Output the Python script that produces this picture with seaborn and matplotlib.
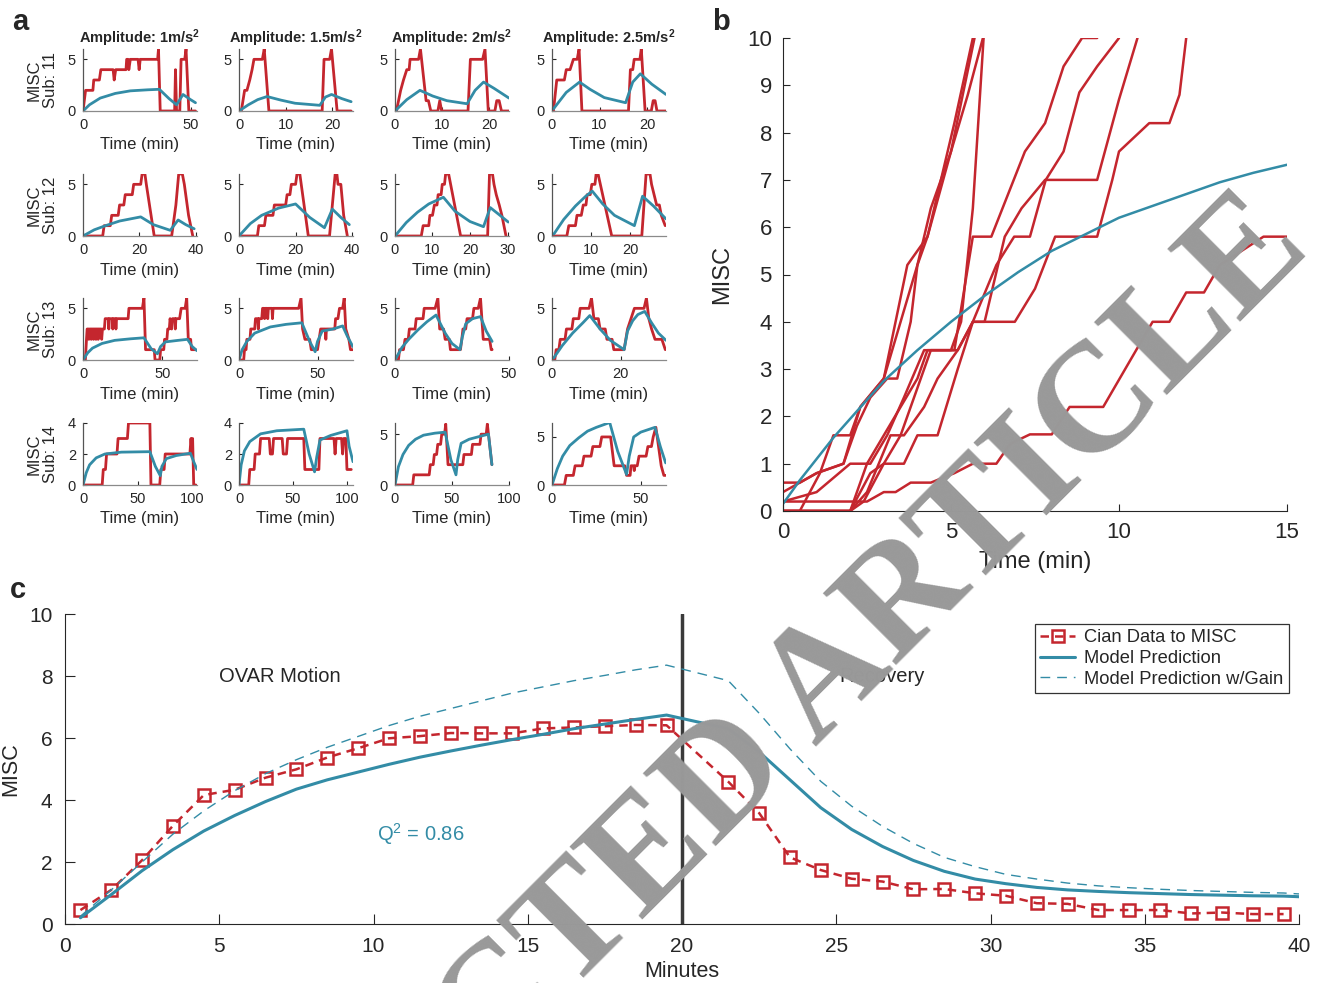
import numpy as np
import pandas as pd
import seaborn as sns
import matplotlib.pyplot as plt

# ===== 数据 =====
RED = "#c4262e"
TEAL = "#338ca6"

amps = ["1", "1.5", "2", "2.5"]
subjects = ["11", "12", "13", "14"]

# panel a: (time, MISC) rated by subject / model prediction
s11_a1_red = [(0,0),(1.2,2),(4.6,2),(5.0,3),(7.6,3),(8.3,4),(14.0,4),(14.5,3),(15.2,4),(20.0,4),(20.3,5),(21.0,5),(21.3,4),(22.0,5),(25.6,5),(26.1,4),(26.6,5),(34.7,5),(35.1,6),(35.9,0),(42.6,0),(43.0,4),(43.5,0),(45.0,0),(45.6,5),(47.3,5),(47.9,6),(49.2,0),(52.3,0)]
s11_a1_teal = [(0,0),(3,0.6),(8,1.25),(15,1.7),(22,1.95),(30,2.05),(35.5,2.1),(40,1.2),(43.5,0.6),(46.5,1.6),(50,1.1),(52.3,0.8)]
s11_a15_red = [(0,0),(0.5,0),(1.2,2),(1.7,2),(2.3,3),(2.8,4),(3.2,5),(5.0,5),(5.4,6),(6.4,0),(17.8,0),(18.2,5),(19.4,5),(19.8,6),(21.0,0),(24,0)]
s11_a15_teal = [(0,0),(2,0.6),(4,1.1),(6,1.4),(9,1.05),(12,0.75),(17.3,0.55),(18.5,1.35),(19.8,1.6),(22,1.2),(24,0.9)]
s11_a2_red = [(0,0),(0.3,0),(1.2,2),(1.8,3),(2.5,4),(3.0,4),(3.2,5),(5.0,5),(5.4,6),(6.6,1),(7.1,1),(7.6,0),(9.1,0),(9.5,1),(9.9,0),(15.5,0),(16.0,5),(18.6,5),(19.1,6),(19.8,0),(21.2,0),(21.6,1),(22.1,1),(22.6,0),(24.2,0)]
s11_a2_teal = [(0,0),(2.5,1.1),(5.3,2.0),(8,1.45),(11,1.0),(15.3,0.7),(17,2.0),(18.8,2.8),(21,2.2),(24.2,1.25)]
s11_a25_red = [(0,0),(0.3,0),(1.0,3),(2.6,3),(3.0,4),(3.8,4),(4.5,5),(5.3,5),(5.7,6),(6.3,0),(16.1,0),(16.5,4),(17.0,4),(17.3,5),(18.5,5),(18.8,6),(19.6,0),(20.9,0),(21.3,1),(21.7,1),(22.1,0),(24,0)]
s11_a25_teal = [(0.3,0.2),(3,1.8),(5.8,2.8),(8,2.1),(11,1.3),(15.5,0.8),(17,2.8),(18.6,3.6),(21,2.6),(24,1.6)]

s12_a1_red = [(0,0),(7.0,0),(7.5,1),(9.7,1),(10.2,2),(12.5,2),(13.0,3),(14.5,3),(15.0,4),(17.5,4),(18.0,5),(20.5,5),(21.0,6),(22.0,6),(22.5,5),(25.3,0),(31.5,0),(33.0,3),(34.0,6),(35.3,6),(36.0,5),(37.5,2),(39.0,0)]
s12_a1_teal = [(0,0),(4,0.6),(8,1.0),(13,1.45),(20.5,1.85),(25,1.1),(31,0.55),(33.8,1.55),(36.5,1.1),(39.5,0.7)]
s12_a15_red = [(0,0),(6.5,0),(7.0,1),(9.0,1),(9.5,2),(12.0,2),(12.5,3),(16.5,3),(17.0,4),(18.0,4),(18.5,5),(20.0,5),(20.5,6),(21.5,6),(24.5,0),(32.0,0),(34.0,6),(34.6,6),(35.0,5),(36.0,5),(37.0,2),(38.3,0)]
s12_a15_teal = [(0,0),(4,1.2),(8,2.0),(14,2.7),(20,3.1),(25,1.8),(30.2,0.8),(33,2.6),(36,1.8),(39,1.1)]
s12_a2_red = [(0,0),(7.0,0),(7.5,1),(9.0,1),(9.3,2),(10.0,2),(10.5,3),(11.2,3),(11.5,4),(12.3,4),(12.6,5),(13.2,5),(13.5,6),(14.3,6),(17.5,0),(24.7,0),(25.2,6),(26.0,6),(26.4,5),(27.0,4),(27.8,3),(28.5,2),(29.6,0)]
s12_a2_teal = [(0,0),(3,1.3),(6,2.3),(9,3.1),(12.9,3.75),(16,2.4),(20,1.4),(23.6,0.9),(25.4,2.75),(28,2.0),(30.2,1.35)]
s12_a25_red = [(0,0),(3.8,0),(4.3,1),(6.0,1),(6.4,2),(7.5,2),(8.0,3),(8.7,3),(9.0,4),(9.8,4),(10.2,5),(11.0,5),(11.3,6),(11.8,6),(15.3,0),(23.0,0),(24.1,6),(25.1,6),(25.5,5),(26.8,3),(27.5,3),(28.0,2),(29.0,1)]
s12_a25_teal = [(0.5,0.2),(3,1.6),(6,2.9),(8.5,3.8),(10.3,4.35),(13,3.1),(16,2.0),(21.1,1.0),(23.2,3.85),(26,2.9),(29.2,1.65)]

s13_a1_red = [(0,0),(1.5,0),(2.2,2),(2.6,3),(3.5,3),(3.7,2),(4.2,3),(5.0,3),(5.2,2),(5.6,3),(6.5,3),(6.7,2),(7.1,3),(8.0,3),(8.2,2),(8.6,3),(9.4,3),(9.6,2),(10.0,3),(11.5,3),(11.8,2),(12.3,3),(13.5,3),(14.0,4),(16.0,4),(16.3,3),(16.7,4),(18.5,4),(18.8,3),(19.2,4),(20.5,4),(20.8,3),(21.2,4),(28.5,4),(29.0,5),(37.5,5),(38.5,6),(39.5,1),(45.0,1),(45.5,0),(48.5,0),(49.0,1),(51.0,1),(51.5,2),(53.0,2),(53.5,3),(54.5,3),(55.0,4),(56.0,3),(56.5,4),(58.0,4),(58.3,3),(58.7,4),(61.0,4),(62.0,5),(64.5,5),(65.5,6),(66.5,2),(68.0,2),(68.5,1),(71.0,1)]
s13_a1_teal = [(0,0),(3,0.7),(6,1.15),(12,1.6),(20,1.9),(30,2.05),(38.5,2.15),(43,1.1),(47,0.6),(49,1.3),(52,1.75),(60,1.9),(66,2.0),(69,1.3),(72,0.9)]
s13_a15_red = [(0,0),(3,0),(3.5,1),(4.5,1),(5,2),(7,2),(7.5,3),(10,3),(10.5,4),(12,4),(12.3,3),(12.7,4),(14.5,4),(15,5),(16,5),(16.3,4),(16.8,5),(18,5),(18.3,4),(18.7,5),(21,5),(21.3,4),(21.7,5),(38,5),(39.5,6),(40.5,3),(42,2),(45,2),(46,1),(50,1),(51,2),(52,3),(55,3),(55.3,2),(55.7,3),(61,3),(61.5,4),(63,4),(64,5),(66,5),(67,6),(68,3),(70,2),(71,1),(72.5,1)]
s13_a15_teal = [(0,0),(2,1.0),(5,1.8),(10,2.6),(20,3.2),(30,3.45),(40,3.6),(45,1.8),(48.5,0.8),(50,1.8),(53,2.8),(60,3.0),(66,3.3),(69,2.3),(72.5,1.3)]
s13_a2_red = [(0,0),(1.5,0),(2,1),(3.7,1),(4.4,2),(5.8,2),(6.3,3),(8.8,3),(9.3,4),(12.3,4),(12.8,5),(17.6,5),(18.8,6),(19.6,3),(21.3,3),(22,2),(23.8,2),(24.3,1),(28.7,1),(29.3,2),(29.8,3),(31,3),(31.6,4),(34,4),(34.6,5),(36.5,5),(37.5,6),(38.7,2),(41.5,2),(42.2,1),(42.6,1)]
s13_a2_teal = [(0,0),(3,1.2),(6,2.0),(10,2.9),(14,3.7),(18,4.35),(22,2.6),(25,1.6),(28.5,1.0),(29.5,2.2),(31,3.5),(34,4.0),(37.5,4.2),(40,2.8),(42.6,1.8)]
s13_a25_red = [(0,0),(0.8,0),(1.2,1),(2,1),(2.4,2),(3.8,2),(4.2,3),(5.8,3),(6.2,4),(7.8,4),(8.2,5),(10.8,5),(11.5,6),(12.2,4),(13.5,4),(14,3),(15.5,3),(16,2),(17.5,2),(18,1),(21,1),(21.5,2),(22,3),(23,4),(24,5),(26.8,5),(27.5,6),(28.2,4),(29,3),(30,2),(32,2),(33,1)]
s13_a25_teal = [(0.5,0.2),(3,1.4),(6,2.6),(9,3.6),(11,4.3),(14,3.0),(17,1.9),(21,1.0),(22,2.8),(23.5,3.8),(25,4.4),(27,4.7),(29,3.6),(31,2.6),(33.2,1.9)]

s14_a1_red = [(0,0),(17.5,0),(18.5,1),(20.5,1),(21.5,2),(31,2),(32,3),(40.5,3),(41.5,4),(61,4),(62,0),(70,0),(71,1),(74,1),(75,2),(97.5,2),(98.5,3),(99.5,2),(100,3),(101,0),(103,0)]
s14_a1_teal = [(0,0),(3,0.8),(6,1.3),(12,1.75),(20,2.0),(35,2.12),(61,2.15),(66,1.2),(70.5,0.6),(72,1.2),(76,1.7),(85,1.9),(98,2.05),(101,1.5),(104,1.0)]
s14_a15_red = [(0,0),(9,0),(10,1),(14,1),(15,2),(19,2),(20,3),(28,3),(29,2),(31,2),(32,3),(40,3),(41,2),(44,2),(45,3),(60,3),(61,1),(74,1),(75,3),(88,3),(89,2),(90,3),(95,3),(96,2),(97,3),(99,3),(100,1),(104,1)]
s14_a15_teal = [(0,0),(2,1.3),(5,2.2),(10,2.8),(20,3.3),(35,3.5),(60,3.6),(65,2.0),(70,0.85),(72,1.8),(75,2.9),(85,3.2),(100,3.5),(102,2.5),(105.6,1.5)]
s14_a2_red = [(0,0),(15.5,0),(16.5,1),(30,1),(31,2),(33.5,2),(34.5,3),(36.5,3),(37.5,4),(40,4),(41,5),(43.5,5),(44.5,6),(46.5,2),(59.5,2),(60.5,3),(67,3),(68,4),(74.5,4),(75.5,5),(80,5),(81,6),(82,5),(85,2)]
s14_a2_teal = [(0,0),(3,1.8),(7,3.0),(12,3.9),(18,4.5),(25,4.9),(35,5.1),(44,5.2),(49,2.5),(53.5,1.0),(55,2.5),(58,4.1),(65,4.5),(75,4.8),(82,5.0),(85,2.0)]
s14_a25_red = [(0,0),(7,0),(8,1),(12,1),(13,2),(17,2),(18,3),(22,3),(23,4),(27,4),(28,5),(33,5),(35,2),(41,2),(42,1),(44,1),(44.5,2),(46,2),(46.3,1.5),(46.7,2),(48,2),(49,3),(53,3),(54,4),(56,4),(57,5),(58.5,6),(60,4),(61.5,2),(63,1),(64,1)]
s14_a25_teal = [(0,0),(3,1.7),(6,3.0),(10,4.1),(15,4.9),(20,5.6),(25,6.0),(32.5,6.5),(37,3.5),(42,1.1),(43.5,3.0),(46,5.0),(50,5.5),(58,6.0),(61,4.0),(64,2.3)]

grid_red = [[s11_a1_red, s11_a15_red, s11_a2_red, s11_a25_red],
            [s12_a1_red, s12_a15_red, s12_a2_red, s12_a25_red],
            [s13_a1_red, s13_a15_red, s13_a2_red, s13_a25_red],
            [s14_a1_red, s14_a15_red, s14_a2_red, s14_a25_red]]
grid_teal = [[s11_a1_teal, s11_a15_teal, s11_a2_teal, s11_a25_teal],
             [s12_a1_teal, s12_a15_teal, s12_a2_teal, s12_a25_teal],
             [s13_a1_teal, s13_a15_teal, s13_a2_teal, s13_a25_teal],
             [s14_a1_teal, s14_a15_teal, s14_a2_teal, s14_a25_teal]]
grid_xmax = [[53, 24.4, 24.2, 24], [40.5, 40.3, 30.4, 29.2], [72, 72.6, 50, 33.2], [104, 105.6, 100, 64.2]]
grid_xticks = [[[0, 50], [0, 10, 20], [0, 10, 20], [0, 10, 20]],
               [[0, 20, 40], [0, 20, 40], [0, 10, 20, 30], [0, 10, 20]],
               [[0, 50], [0, 50], [0, 50], [0, 20]],
               [[0, 50, 100], [0, 50, 100], [0, 50, 100], [0, 50]]]
grid_ymax = [[6, 6, 6, 6], [6, 6, 6, 6], [6, 6, 6, 6], [4, 4, 6.1, 6.45]]

# panel b: 个体曲线
b_lines = [
    ([0, 0.5, 1.0, 1.8, 2.3, 3.0, 3.7, 4.3, 5.1, 5.65], [0.6, 0.6, 0.8, 1.0, 2.2, 2.8, 5.2, 5.8, 8.2, 10]),
    ([0, 1.0, 1.8, 2.2, 2.6, 3.1, 3.4, 3.8, 4.0, 4.3, 5.0, 5.7], [0.4, 0.8, 1.0, 1.8, 2.4, 2.8, 2.8, 4.0, 5.2, 5.8, 7.6, 10]),
    ([0, 0.5, 1.1, 1.5, 2.0, 2.3, 3.0, 3.5, 4.0, 4.4, 5.0, 5.5, 5.95], [0, 0, 0.8, 1.6, 1.6, 2.2, 2.8, 4.0, 5.2, 6.4, 7.6, 8.8, 10]),
    ([0, 2.0, 2.5, 3.0, 3.5, 4.0, 4.3, 5.0, 5.3, 5.65, 5.97], [0, 0, 1.0, 1.6, 2.2, 2.8, 3.4, 3.4, 4.0, 6.4, 10]),
    ([0, 1.0, 2.0, 2.6, 3.1, 3.6, 4.2, 5.1, 5.65, 6.2, 7.2, 7.8, 8.35, 8.9, 9.35], [0.2, 0.4, 1.0, 1.0, 1.6, 2.4, 3.4, 3.4, 5.8, 5.8, 7.6, 8.2, 9.4, 10, 10]),
    ([0, 2.0, 2.4, 3.0, 3.5, 4.0, 4.4, 5.2, 5.65, 6.35, 6.88, 7.35, 7.82, 8.35, 8.82, 9.35, 10.0], [0, 0, 0.2, 1.0, 1.6, 2.6, 3.4, 3.4, 4.0, 5.2, 5.8, 5.8, 7.0, 7.6, 8.85, 9.4, 10]),
    ([0, 2.0, 2.6, 3.0, 3.6, 4.0, 4.6, 5.2, 5.65, 6.0, 6.6, 7.1, 7.8, 9.35, 10.0, 10.55], [0, 0, 0.8, 1.0, 1.0, 1.6, 1.6, 3.0, 4.0, 4.0, 5.8, 6.4, 7.0, 7.0, 8.7, 10]),
    ([0, 2.0, 2.5, 3.2, 3.6, 4.2, 4.6, 5.2, 5.65, 6.9, 7.5, 8.1, 9.35, 9.8, 10.0, 10.9, 11.5, 11.8, 12.0], [0, 0, 0.4, 1.6, 1.6, 2.2, 2.8, 3.4, 4.0, 4.0, 4.7, 5.8, 5.8, 7.0, 7.6, 8.2, 8.2, 8.8, 10]),
    ([0, 2.5, 3.0, 3.35, 3.8, 4.4, 5.1, 5.65, 6.35, 6.76, 7.35, 8.0, 8.53, 9.53, 11.0, 11.5, 12.0, 12.53, 13.0, 14.3, 15], [0.2, 0.2, 0.4, 0.4, 0.6, 0.6, 0.8, 1.0, 1.0, 1.42, 1.62, 1.62, 2.2, 2.2, 4.0, 4.0, 4.62, 4.62, 5.2, 5.8, 5.8]),
]
b_model_t = [0, 0.5, 1, 1.5, 2, 3, 4, 5, 6, 7, 8, 9, 10, 11, 12, 13, 14, 15]
b_model = [0.15, 0.65, 1.1, 1.55, 1.95, 2.75, 3.4, 4.0, 4.55, 5.05, 5.5, 5.85, 6.2, 6.45, 6.7, 6.95, 7.15, 7.32]

# panel c
misc_t = [0.5, 1.5, 2.5, 3.5, 4.5, 5.5, 6.5, 7.5, 8.5, 9.5, 10.5, 11.5, 12.5, 13.5, 14.5, 15.5, 16.5, 17.5, 18.5, 19.5,
          21.5, 22.5, 23.5, 24.5, 25.5, 26.5, 27.5, 28.5, 29.5, 30.5, 31.5, 32.5, 33.5, 34.5, 35.5, 36.5, 37.5, 38.5, 39.5]
misc = [0.45, 1.1, 2.06, 3.17, 4.16, 4.33, 4.72, 4.99, 5.37, 5.67, 5.99, 6.06, 6.16, 6.15, 6.15, 6.31, 6.34, 6.38, 6.42, 6.41,
        4.59, 3.58, 2.15, 1.74, 1.46, 1.37, 1.12, 1.13, 0.99, 0.91, 0.67, 0.65, 0.45, 0.45, 0.45, 0.34, 0.37, 0.32, 0.32]
model_t = misc_t + [40]
model = [0.2, 0.95, 1.72, 2.4, 3.0, 3.5, 3.95, 4.35, 4.65, 4.9, 5.15, 5.38, 5.58, 5.77, 5.95, 6.12, 6.3, 6.45, 6.6, 6.74,
         6.3, 5.55, 4.65, 3.75, 3.05, 2.5, 2.05, 1.7, 1.45, 1.3, 1.18, 1.1, 1.05, 1.01, 0.98, 0.95, 0.93, 0.91, 0.9, 0.88]
model_gain = [0.25, 1.1, 2.0, 2.9, 3.65, 4.3, 4.85, 5.3, 5.7, 6.05, 6.4, 6.7, 6.95, 7.2, 7.45, 7.65, 7.85, 8.02, 8.2, 8.35,
              7.85, 6.8, 5.65, 4.6, 3.8, 3.15, 2.6, 2.15, 1.85, 1.6, 1.45, 1.32, 1.23, 1.17, 1.12, 1.08, 1.05, 1.02, 1.0, 0.97]

# ===== 样式 =====
sns.set_style("ticks")
plt.rcParams['font.family'] = ['Liberation Sans', 'DejaVu Sans']
plt.rcParams['axes.edgecolor'] = '#262626'
plt.rcParams['mathtext.default'] = 'regular'

W, H = 1322, 983
fig = plt.figure(figsize=(W / 100, H / 100), dpi=100)


def px_axes(x0, x1, y0, y1):
    # 像素坐标 -> figure 坐标
    return fig.add_axes([x0 / W, 1 - y1 / H, (x1 - x0) / W, (y1 - y0) / H])


def trace(ax, pts, color, lw):
    df = pd.DataFrame(pts, columns=["t", "v"])
    sns.lineplot(data=df, x="t", y="v", ax=ax, color=color, lw=lw, sort=False, estimator=None)


# ===== a =====
col_x = [83, 239, 395, 552]
row_y = [49, 174, 298, 423]
for r in range(4):
    for c in range(4):
        ax = px_axes(col_x[c], col_x[c] + 114, row_y[r], row_y[r] + 62)
        trace(ax, grid_red[r][c], RED, 2.0)
        trace(ax, grid_teal[r][c], TEAL, 2.0)
        ax.set_xlim(0, grid_xmax[r][c])
        ax.set_ylim(0, grid_ymax[r][c])
        ax.set_xticks(grid_xticks[r][c])
        ax.set_yticks([0, 2, 4] if grid_ymax[r][c] == 4 else [0, 5])
        sns.despine(ax=ax)
        ax.spines['left'].set_color('#555555')
        ax.spines['bottom'].set_color('#8a8a8a')
        for s in ax.spines.values():
            s.set_linewidth(0.9)
        ax.tick_params(direction='in', length=3, width=0.8, labelsize=10.5, pad=5, colors='#262626')
        ax.set_xlabel("Time (min)", fontsize=12, labelpad=4)
        ax.set_ylabel(f"MISC\nSub: {subjects[r]}" if c == 0 else "", fontsize=12, labelpad=7, linespacing=1.15)
        if r == 0:
            ax.set_title(f"Amplitude: {amps[c]}m/s$^2$", fontsize=10.5, fontweight='bold', pad=4)

# ===== b =====
axb = px_axes(783, 1287, 38, 511)
for xs, ys in b_lines:
    trace(axb, list(zip(xs, ys)), RED, 1.8)
trace(axb, list(zip(b_model_t, b_model)), TEAL, 1.8)
axb.set_xlim(0, 15)
axb.set_ylim(0, 10)
axb.set_xticks([0, 5, 10, 15])
axb.set_yticks(range(0, 11))
sns.despine(ax=axb)
axb.tick_params(direction='in', length=5, width=0.8, labelsize=16, pad=8)
axb.set_xlabel("Time (min)", fontsize=17, labelpad=6)
axb.set_ylabel("MISC", fontsize=17, labelpad=10)

# ===== c =====
axc = px_axes(65, 1299, 614, 924)
axc.axvline(20, color='#3a3a3a', lw=2.5, zorder=1.5)
df_misc = pd.DataFrame({"t": misc_t, "v": misc})
sns.lineplot(data=df_misc, x="t", y="v", ax=axc, color=RED, lw=1.8, linestyle=(0, (3.4, 2.4)),
             marker='s', markersize=9, markerfacecolor='none', markeredgecolor=RED, markeredgewidth=1.8,
             sort=False, estimator=None, label="Cian Data to MISC")
df_model = pd.DataFrame({"t": model_t, "v": model, "g": model_gain})
sns.lineplot(data=df_model, x="t", y="v", ax=axc, color=TEAL, lw=2.2, sort=False, estimator=None,
             label="Model Prediction")
sns.lineplot(data=df_model, x="t", y="g", ax=axc, color=TEAL, lw=1.0, linestyle=(0, (7, 5)),
             sort=False, estimator=None, label="Model Prediction w/Gain")
axc.set_xlim(0, 40)
axc.set_ylim(0, 10)
axc.set_xticks(range(0, 41, 5))
axc.set_yticks(range(0, 11, 2))
sns.despine(ax=axc)
axc.tick_params(direction='in', length=7, width=0.8, labelsize=15, pad=9)
axc.set_xlabel("Minutes", fontsize=15.5, labelpad=4)
axc.set_ylabel("MISC", fontsize=15.5, labelpad=6)
axc.text(5.0, 8.0, "OVAR Motion", fontsize=14.5, va='center')
axc.text(25.1, 8.0, "Recovery", fontsize=14.5, va='center')
axc.text(10.1, 2.9, "Q$^2$ = 0.86", fontsize=14.5, va='center', color=TEAL)
leg = axc.legend(loc='upper right', bbox_to_anchor=(0.992, 0.968), fontsize=13.2, frameon=True,
                 fancybox=False, edgecolor='black', handlelength=1.9, borderpad=0.3, labelspacing=0.2,
                 handletextpad=0.5, borderaxespad=0)
leg.get_frame().set_linewidth(0.9)

# ===== 标签 / 水印 =====
fig.text(12 / W, 1 - 22 / H, "a", fontsize=21, fontweight='bold', va='center')
fig.text(712 / W, 1 - 22 / H, "b", fontsize=21, fontweight='bold', va='center')
fig.text(10 / W, 1 - 590 / H, "c", fontsize=21, fontweight='bold', va='center')
fig.text(708 / W, 1 - 854 / H, "RETRACTED ARTICLE", fontsize=112, family=['Liberation Serif', 'DejaVu Serif'],
         fontweight='bold', color='#999999', rotation=45, rotation_mode='anchor', ha='center', va='baseline',
         zorder=10)

fig.savefig("out.png", dpi=100)
